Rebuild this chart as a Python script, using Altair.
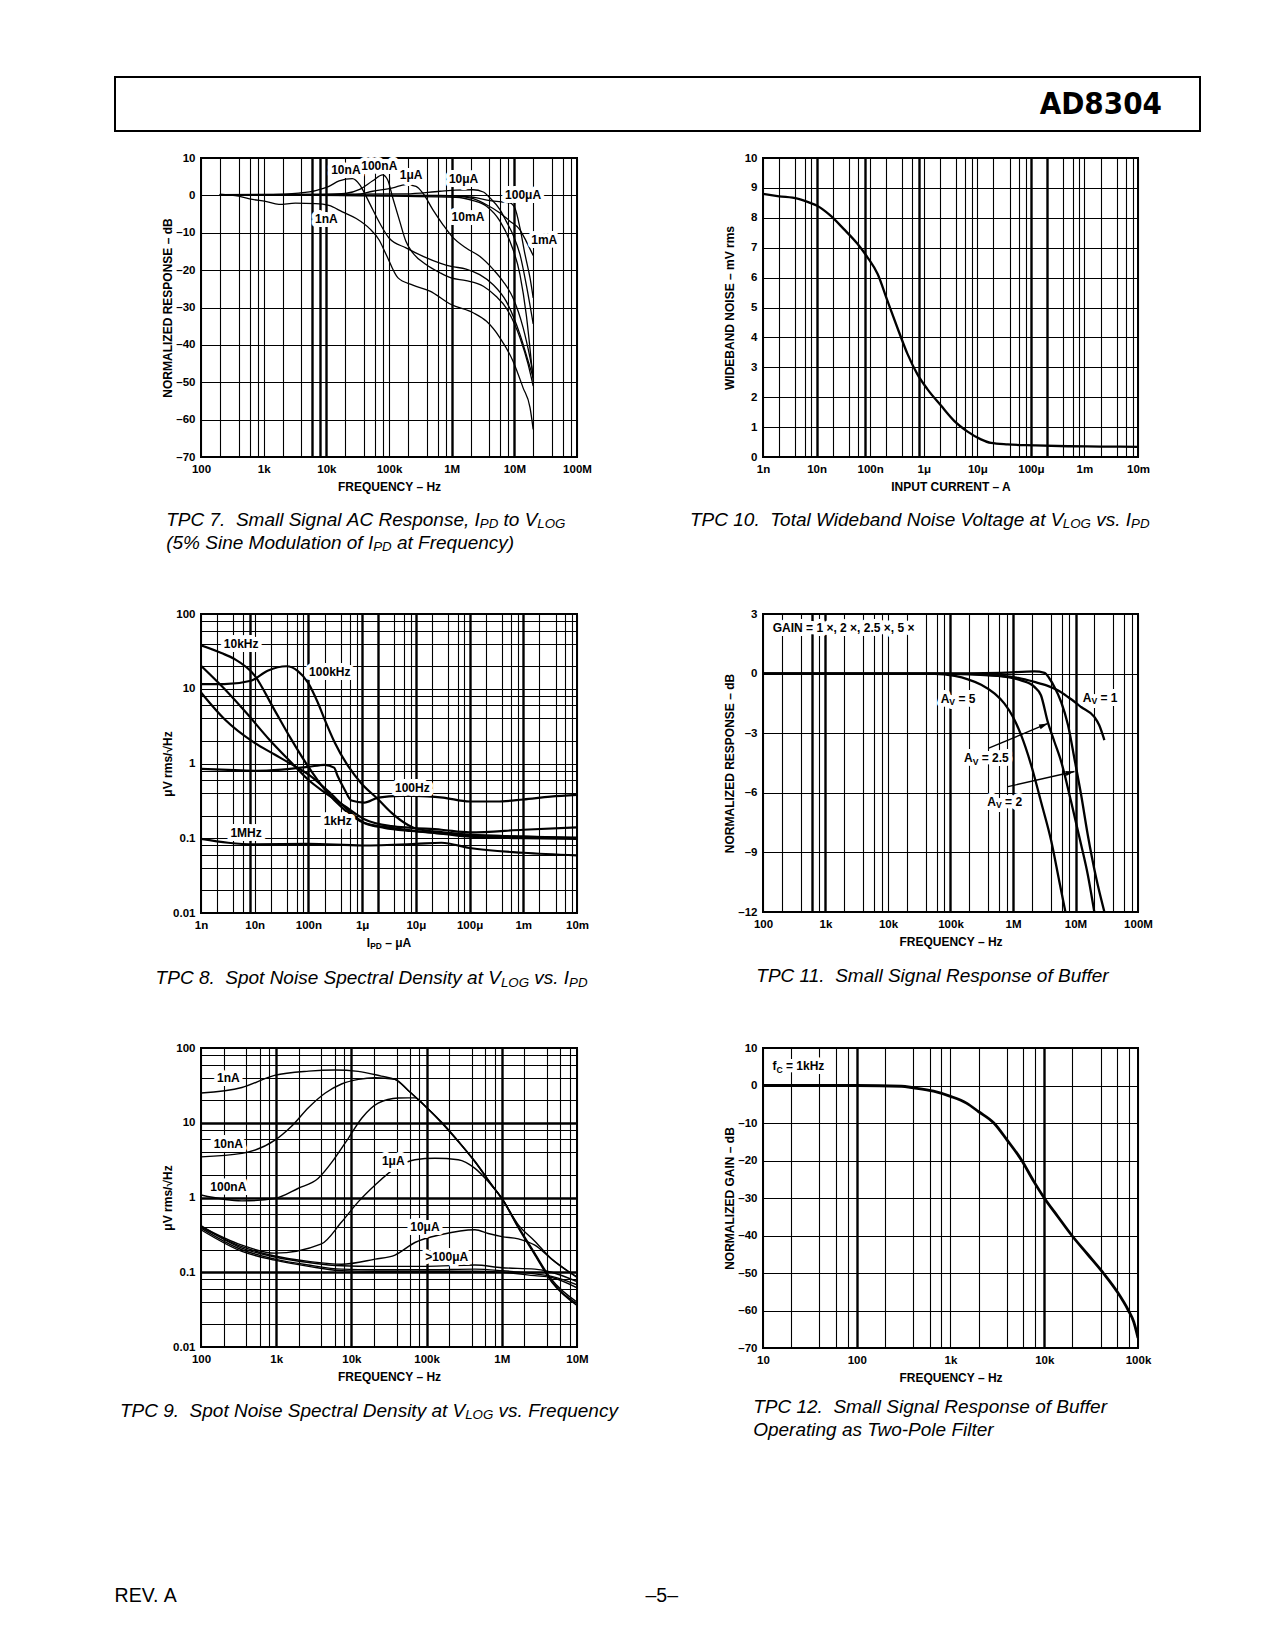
import math
import altair as alt
import pandas as pd

FONT = "Liberation Sans, Arial, Helvetica, sans-serif"
NARROW = "DejaVu Sans Condensed, Liberation Sans Narrow, Arial Narrow, sans-serif"

# ---------------- TPC 7 : small signal AC response ----------------
T7_1NA_F = [200, 400, 660, 1070, 1750, 3200, 6800, 11000, 18000, 30000, 49000, 70000, 90000, 138000, 240000, 450000, 980000, 2.2e6, 3.6e6, 5.9e6, 9.5e6, 1.38e7, 1.78e7, 2.0e7]
T7_1NA_DB = [0.3, -0.2, -1.1, -1.6, -2.4, -2.1, -2.2, -2.7, -4.4, -6.2, -8.9, -12.0, -15.8, -22.0, -24.0, -25.6, -29.2, -31.4, -33.7, -38.1, -44.3, -51.5, -56.8, -62.6]
T7_10NA_F = [200, 1400, 3600, 6800, 11000, 16000, 26000, 34000, 43000, 55000, 71000, 100000, 190000, 350000, 650000, 980000, 1.7e6, 2.8e6, 4.6e6, 7.4e6, 1.23e7, 1.66e7, 2.0e7]
T7_10NA_DB = [0.2, 0.2, 0.6, 1.3, 2.4, 3.9, 4.5, 2.9, -0.2, -3.8, -7.4, -11.4, -14.1, -16.3, -18.1, -19.0, -19.7, -21.2, -23.9, -28.3, -37.2, -44.3, -48.8]
T7_100NA_F = [200, 8700, 20000, 34000, 55000, 79000, 95000, 115000, 148000, 186000, 240000, 390000, 650000, 980000, 1.7e6, 3.2e6, 5.1e6, 7.4e6, 1.23e7, 1.66e7, 2.0e7]
T7_100NA_DB = [0.2, 0.2, 0.5, 1.6, 3.9, 5.5, 4.2, -0.7, -6.9, -12.3, -15.4, -18.5, -20.7, -22.1, -22.8, -24.3, -27.0, -30.1, -38.1, -45.2, -51.0]
T7_1UA_F = [200, 29500, 55000, 115000, 186000, 270000, 347000, 500000, 724000, 1.0e6, 1.7e6, 2.8e6, 4.6e6, 6.6e6, 9.5e6, 1.38e7, 1.78e7, 2.0e7]
T7_1UA_DB = [0.2, 0.2, 1.1, 2.0, 2.9, 2.4, 0.6, -3.8, -7.8, -10.9, -14.1, -16.3, -19.8, -23.0, -27.4, -35.4, -43.5, -47.9]
T7_10UA_F = [200, 186000, 650000, 1.17e6, 2.2e6, 3.2e6, 4.1e6, 5.9e6, 7.4e6, 9.5e6, 1.23e7, 1.55e7, 2.0e7]
T7_10UA_DB = [0.2, 0.4, 1.1, 1.4, 1.5, 0.9, -0.7, -3.8, -6.9, -10.5, -15.8, -23.9, -34.4]
T7_100UA_F = [200, 650000, 2.2e6, 4.1e6, 6.6e6, 8.5e6, 1.02e7, 1.23e7, 1.48e7, 1.78e7, 2.0e7]
T7_100UA_DB = [0.2, 0.0, -0.5, -1.4, -1.8, -2.0, -3.4, -8.7, -15.8, -22.1, -27.4]
T7_1MA_F = [200, 1.17e6, 2.2e6, 3.6e6, 5.9e6, 8.5e6, 1.23e7, 1.55e7, 2.0e7]
T7_1MA_DB = [0.2, -0.2, -0.9, -2.5, -4.7, -6.9, -9.2, -12.3, -16.1]
T7_10MA_F = [200, 1.17e6, 2.2e6, 3.6e6, 5.9e6, 8.5e6, 1.23e7, 1.55e7, 2.0e7]
T7_10MA_DB = [0.2, -0.5, -1.4, -2.9, -6.9, -12.3, -21.2, -31.9, -49.7]
T7_LBL = ["10nA", "100nA", "1μA", "10μA", "100μA", "1nA", "10mA", "1mA"]
T7_LBL_F = [20500, 70000, 225000, 1.55e6, 1.38e7, 1.0e4, 1.82e6, 3.0e7]
T7_LBL_DB = [6.9, 7.8, 5.4, 4.4, 0.2, -6.3, -5.9, -12.0]

# ---------------- TPC 10 : wideband noise ----------------
T10_I = [1e-9, 2e-9, 4.4e-9, 7.8e-9, 1e-8, 1.8e-8, 3.2e-8, 5.8e-8, 8.9e-8, 1.38e-7, 2.1e-7, 3.2e-7, 5e-7, 7.6e-7, 1.17e-6, 2.1e-6, 3.7e-6, 6.6e-6, 1.17e-5, 1.8e-5, 3.7e-5, 1.15e-4, 4.9e-4, 2e-3, 1e-2]
T10_MV = [8.80, 8.72, 8.64, 8.49, 8.41, 8.08, 7.63, 7.13, 6.68, 6.12, 5.23, 4.34, 3.44, 2.77, 2.27, 1.72, 1.21, 0.85, 0.59, 0.47, 0.42, 0.39, 0.36, 0.35, 0.34]

# ---------------- TPC 8 : spot noise vs IPD ----------------
T8_10K_I = [1e-9, 2.4e-9, 4.2e-9, 1e-8, 2.3e-8, 4.8e-8, 9.8e-8, 2e-7, 4.7e-7, 1.1e-6, 3.5e-6, 1e-5, 3.2e-5, 1e-4, 1e-3, 1e-2]
T8_10K_V = [38, 30, 25, 15, 5.3, 2.1, 0.92, 0.45, 0.24, 0.16, 0.138, 0.125, 0.115, 0.11, 0.105, 0.1]
T8_X_I = [1e-9, 2.75e-9, 6.9e-9, 1.86e-8, 4.8e-8, 9.8e-8, 2e-7, 4.7e-7, 1.1e-6, 3.5e-6, 8.3e-6, 3e-5, 1e-4, 1e-3, 1e-2]
T8_X_V = [20.3, 9.9, 4.8, 2.1, 1.03, 0.61, 0.41, 0.27, 0.18, 0.145, 0.138, 0.13, 0.12, 0.13, 0.14]
T8_1K_I = [1e-9, 2.75e-9, 9.8e-9, 2.3e-8, 4.8e-8, 1.1e-7, 2.3e-7, 5.4e-7, 1.1e-6, 2.6e-6, 8.3e-6, 3e-5, 1e-4, 1e-3, 1e-2]
T8_1K_V = [8.9, 3.9, 1.9, 1.33, 0.98, 0.68, 0.43, 0.24, 0.16, 0.138, 0.125, 0.115, 0.105, 0.1, 0.098]
T8_100K_I = [1e-9, 2.7e-9, 8.5e-9, 1.74e-8, 3.9e-8, 6.3e-8, 9.8e-8, 1.5e-7, 2e-7, 3.1e-7, 5.5e-7, 9.5e-7, 2e-6, 3.5e-6, 6.2e-6, 1e-5, 3.2e-5, 1e-4, 1e-3, 1e-2]
T8_100K_V = [11.5, 11.5, 12.8, 17.4, 20, 17.4, 12.1, 6.5, 3.9, 1.9, 0.92, 0.55, 0.33, 0.22, 0.16, 0.135, 0.12, 0.112, 0.105, 0.102]
T8_100_I = [1e-9, 3.2e-9, 1e-8, 3.2e-8, 1e-7, 2e-7, 3e-7, 3.5e-7, 4.7e-7, 6.3e-7, 1.1e-6, 2e-6, 5e-6, 1e-5, 3.2e-5, 1e-4, 3.2e-4, 1e-3, 3.2e-3, 1e-2]
T8_100_V = [0.85, 0.82, 0.80, 0.83, 0.90, 0.96, 0.88, 0.68, 0.45, 0.32, 0.30, 0.35, 0.37, 0.37, 0.35, 0.31, 0.31, 0.33, 0.36, 0.38]
T8_1M_I = [1e-9, 3.2e-9, 1e-8, 1e-7, 1e-6, 1e-5, 3e-5, 1e-4, 1e-3, 1e-2]
T8_1M_V = [0.098, 0.087, 0.083, 0.084, 0.080, 0.084, 0.087, 0.074, 0.064, 0.059]
T8_LBL = ["10kHz", "100kHz", "100Hz", "1kHz", "1MHz"]
T8_LBL_I = [5.6e-9, 2.5e-7, 8.6e-6, 3.5e-7, 6.9e-9]
T8_LBL_V = [39.6, 16.5, 0.47, 0.169, 0.118]

# ---------------- TPC 11 : buffer response ----------------
T11_AV1_F = [100, 5.6e4, 6.5e5, 1.2e6, 2.2e6, 3.6e6, 5.2e6, 7.6e6, 1.23e7, 2.0e7, 2.4e7, 2.9e7]
T11_AV1_DB = [0, 0, -0.12, -0.22, -0.42, -0.62, -0.84, -1.18, -1.68, -2.18, -2.6, -3.35]
T11_AV2_F = [100, 5.6e4, 6.5e5, 2.2e6, 3.2e6, 3.85e6, 4.6e6, 5.9e6, 7.6e6, 9.6e6, 1.23e7, 1.57e7, 2.14e7, 2.9e7]
T11_AV2_DB = [0, 0, 0.04, 0.11, 0.04, -0.26, -0.67, -1.43, -2.6, -4.27, -6.1, -8.11, -10.28, -12.0]
T11_AV25_F = [100, 5.6e4, 1.9e5, 6.5e5, 1.35e6, 2.2e6, 2.8e6, 3.6e6, 4.6e6, 5.9e6, 8.5e6, 1.23e7, 1.57e7, 2.0e7]
T11_AV25_DB = [0, 0, -0.02, -0.12, -0.34, -0.67, -1.09, -2.43, -3.43, -4.43, -6.44, -8.61, -10.11, -12.0]
T11_AV5_F = [100, 5.6e4, 1.17e5, 1.9e5, 3.1e5, 5.1e5, 7.3e5, 1.0e6, 1.35e6, 1.95e6, 2.8e6, 4.1e6, 5.5e6, 6.9e6]
T11_AV5_DB = [0, -0.01, -0.12, -0.29, -0.56, -1.01, -1.51, -2.18, -3.1, -4.6, -6.44, -8.44, -10.45, -12.0]
T11_AV = ["5", "1", "2.5", "2"]
T11_AV_F = [132000, 2.48e7, 375000, 736000]
T11_AV_DB = [-1.26, -1.21, -4.27, -6.44]
T11_ARROW_F0 = [4.0e5, 8.3e5]
T11_ARROW_DB0 = [-3.76, -5.69]
T11_ARROW_F1 = [3.62e6, 9.64e6]
T11_ARROW_DB1 = [-2.51, -4.93]
T11_NOTE = "GAIN = 1 ×, 2 ×, 2.5 ×, 5 ×"
T11_NOTE_F = [143]
T11_NOTE_DB = [2.28]

# ---------------- TPC 9 : spot noise vs frequency ----------------
T9_1NA_F = [100, 350, 950, 2700, 6000, 12300, 25000, 38000, 57000, 1e5, 1.58e5, 2.63e5, 4.4e5, 7.3e5, 1e6, 1.66e6, 2.75e6, 4.6e6, 1e7]
T9_1NA_V = [25, 29.6, 43, 49, 50.7, 48.7, 42, 38, 27, 16, 10, 5.6, 3.0, 1.47, 0.97, 0.39, 0.17, 0.074, 0.036]
T9_10NA_F = [100, 350, 950, 1600, 2700, 4500, 7400, 12400, 20700, 38000, 57000, 1e5, 1.58e5, 2.63e5, 4.4e5, 7.3e5, 1e6, 1.66e6, 2.75e6, 4.6e6, 1e7]
T9_10NA_V = [3.5, 3.9, 5.8, 9.0, 16, 25, 33, 38, 40, 38, 27, 16, 10.2, 5.7, 3.05, 1.5, 0.98, 0.40, 0.175, 0.076, 0.038]
T9_100NA_F = [100, 350, 960, 1970, 3600, 6000, 9100, 13700, 22700, 42000, 57000, 70000, 1e5, 1.58e5, 2.63e5, 4.4e5, 7.3e5, 1e6, 1.66e6, 2.75e6, 4.6e6, 1e7]
T9_100NA_V = [1.08, 0.9, 0.97, 1.33, 1.8, 3.35, 6.2, 11.5, 18.3, 21.4, 21.5, 21.5, 16, 10.1, 5.65, 3.0, 1.48, 0.98, 0.41, 0.18, 0.08, 0.04]
T9_1UA_F = [100, 350, 960, 4000, 7400, 12400, 20700, 38000, 70000, 129000, 263000, 440000, 660000, 1e6, 1.66e6, 2.75e6, 4.6e6, 1e7]
T9_1UA_V = [0.41, 0.23, 0.18, 0.24, 0.47, 0.88, 1.47, 2.45, 3.2, 3.35, 3.2, 2.45, 1.63, 0.97, 0.43, 0.26, 0.15, 0.087]
T9_10UA_F = [100, 350, 960, 2700, 7400, 20700, 38000, 70000, 158000, 440000, 660000, 1e6, 1.66e6, 2.75e6, 4.6e6, 1e7]
T9_10UA_V = [0.40, 0.22, 0.165, 0.14, 0.128, 0.15, 0.17, 0.25, 0.32, 0.37, 0.33, 0.30, 0.28, 0.23, 0.15, 0.085]
T9_100UA_F = [100, 350, 960, 2700, 7400, 20700, 1e5, 4.4e5, 1e6, 2.75e6, 4.6e6, 1e7]
T9_100UA_V = [0.42, 0.21, 0.16, 0.135, 0.122, 0.12, 0.12, 0.125, 0.115, 0.11, 0.1, 0.075]
T9_1MA_F = [100, 350, 960, 2700, 7400, 20700, 1e5, 4.4e5, 1e6, 2.75e6, 4.6e6, 1e7]
T9_1MA_V = [0.39, 0.2, 0.15, 0.125, 0.11, 0.108, 0.108, 0.11, 0.105, 0.095, 0.088, 0.068]
T9_10MA_F = [100, 350, 960, 2700, 7400, 20700, 1e5, 4.4e5, 1e6, 2.75e6, 4.6e6, 1e7]
T9_10MA_V = [0.37, 0.19, 0.145, 0.12, 0.105, 0.103, 0.103, 0.103, 0.1, 0.09, 0.085, 0.062]
T9_LBL = ["1nA", "10nA", "100nA", "1μA", "10μA", ">100μA"]
T9_LBL_F = [231, 231, 231, 36000, 95000, 185000]
T9_LBL_V = [39.6, 5.16, 1.40, 3.08, 0.406, 0.161]

# ---------------- TPC 12 : two-pole filter ----------------
T12_F = [10, 100, 300, 400, 660, 1000, 1480, 2000, 2900, 4000, 5760, 7700, 10000, 14000, 19700, 29000, 42600, 60000, 79000, 90000, 1e5]
T12_DB = [0, 0, -0.2, -0.6, -1.5, -2.9, -4.7, -7.0, -10.0, -14.5, -20.0, -25.5, -30.0, -35.0, -40.0, -45.0, -50.0, -55.0, -60.0, -63.0, -67.3]
T12_NOTE_F = [12.6]
T12_NOTE_DB = [5.1]

# ---------------- axis tick labels ----------------
HZ_DECADES = [(100.0, "100"), (1e3, "1k"), (1e4, "10k"), (1e5, "100k"), (1e6, "1M"), (1e7, "10M"), (1e8, "100M")]
HZ6_DECADES = [(10.0, "10"), (100.0, "100"), (1e3, "1k"), (1e4, "10k"), (1e5, "100k")]
AMP_DECADES = [(1e-9, "1n"), (1e-8, "10n"), (1e-7, "100n"), (1e-6, "1μ"), (1e-5, "10μ"), (1e-4, "100μ"), (1e-3, "1m"), (1e-2, "10m")]
NOISE_DECADES = [(100.0, "100"), (10.0, "10"), (1.0, "1"), (0.1, "0.1"), (0.01, "0.01")]

# ---------------- text width helpers (Arial/Liberation metrics) ----------------
REG_W = {' ': 278, '\u00a0': 278, '(': 333, ')': 333, '%': 889, ',': 278, '.': 278, '-': 333, '–': 556,
         '×': 584, '=': 584, '>': 584, '/': 278,
         'A': 667, 'B': 667, 'C': 722, 'D': 722, 'E': 667, 'F': 611, 'G': 778, 'H': 722, 'I': 278, 'L': 556,
         'M': 833, 'N': 722, 'O': 778, 'P': 667, 'R': 722, 'S': 667, 'T': 611, 'V': 667, 'W': 944,
         'a': 556, 'b': 556, 'c': 500, 'd': 556, 'e': 556, 'f': 278, 'g': 556, 'h': 556, 'i': 222, 'k': 500,
         'l': 222, 'm': 833, 'n': 556, 'o': 556, 'p': 556, 'q': 556, 'r': 333, 's': 500, 't': 278, 'u': 556,
         'v': 500, 'w': 722, 'y': 500, 'z': 500, 'μ': 576}
BOLD_W = {' ': 278, '\u00a0': 278, ',': 278, '.': 278, '–': 556, '×': 584, '=': 584, '>': 584, '/': 278,
          'A': 722, 'C': 722, 'D': 722, 'G': 778, 'H': 722, 'I': 278, 'L': 611, 'M': 833, 'N': 722,
          'O': 778, 'P': 667, 'V': 667, 'a': 556, 'f': 333, 'k': 556, 'm': 889, 'n': 611, 'z': 500, 'μ': 611}
KERN = {'To': -111, 'Vo': -55, 'Ta': -111, 'Te': -111, 'Va': -74, 'Ve': -55, 'Wa': -37, 'We': -18, 'Wo': -18}
NB = "\u00a0"


def nb(s):
    return s.replace(" ", NB)


def tw(s, size, bold):
    tab = BOLD_W if bold else REG_W
    total = sum(tab.get(c, 556) for c in s)
    if not bold:
        total += sum(KERN.get(s[i:i + 2], 0) for i in range(len(s) - 1))
    return total * size / 1000.0


def split_lead(t):
    """Vega trims text, so leading blanks become an offset instead."""
    core = t.strip(" \u00a0")
    lead = t[:len(t) - len(t.lstrip(" \u00a0"))]
    return lead, nb(core)


DUMMY = pd.DataFrame({"a": [0]})
CLEAR = alt.ViewBackground(stroke="transparent")


def blank(w, h):
    return alt.Chart(DUMMY).mark_point(opacity=0, size=0, strokeWidth=0).encode(
        x=alt.value(3), y=alt.value(3)).properties(width=w, height=h, view=CLEAR)


def log_values(lo, hi, mults=(1, 2, 4, 6, 8)):
    vals = []
    for e in range(lo, hi):
        d = float("1e%d" % e)
        for m in mults:
            vals.append(d * m)
    vals.append(float("1e%d" % hi))
    return vals


def label_expr(mapping):
    expr = "''"
    for v, lab in reversed(mapping):
        expr = "datum.value == %r ? '%s' : %s" % (v, lab, expr)
    return expr


LIN_EXPR = "datum.value < 0 ? '–' + (-datum.value) : '' + datum.value"


def grid_w(bold):
    if not bold:
        return 1.1
    arr = ",".join(repr(float(b)) for b in bold)
    return {"condition": {"test": "indexof([%s], datum.value) >= 0" % arr, "value": 2.4}, "value": 1.1}


def make_axis(vals, expr, bold, title, orient, w, h):
    kw = dict(values=vals, labelExpr=expr, grid=True, gridColor="black", gridOpacity=1, gridWidth=grid_w(bold),
              ticks=False, tickSize=0, domain=False, labelFont=FONT, labelFontWeight="bold", labelFontSize=11.5,
              labelColor="black", labelFlush=False, labelOverlap=False,
              titleFont=FONT, titleFontWeight="bold", titleFontSize=12, titleColor="black",
              titleBaseline="middle", titleAlign="center")
    if orient == "x":
        kw.update(labelPadding=6, titleX=w / 2.0, titleY=29, titleAngle=0)
    else:
        kw.update(labelPadding=6, titleX=-34, titleY=h / 2.0, titleAngle=270)
    kw["title"] = title
    return alt.Axis(**kw)


def xy(P):
    return dict(x=alt.X("x:Q", scale=P["xs"], axis=P["xa"]), y=alt.Y("y:Q", scale=P["ys"], axis=P["ya"]))


def series_df(items):
    frames = [pd.DataFrame({"x": xs, "y": ys, "s": name}) for name, xs, ys in items]
    return pd.concat(frames, ignore_index=True)


def panel(df, P, sw, extra):
    lines = alt.Chart(df).mark_line(color="black", strokeWidth=sw, clip=True, interpolate="monotone").encode(
        detail="s:N", **xy(P))
    return alt.layer(lines, *extra).properties(width=P["w"], height=P["h"],
                                               view=alt.ViewBackground(stroke="black", strokeWidth=2))


def simple_labels(xv, yv, texts, P, size=12, align="center"):
    df = pd.DataFrame({"x": xv, "y": yv, "t": [nb(t) for t in texts]})
    common = dict(font=FONT, fontWeight="bold", fontSize=size, align=align, baseline="middle")
    halo = alt.Chart(df).mark_text(fill="white", stroke="white", strokeWidth=8, strokeJoin="round", **common).encode(
        text="t:N", **xy(P))
    txt = alt.Chart(df).mark_text(fill="black", **common).encode(text="t:N", **xy(P))
    return [halo, txt]


def rich_data(fx, fy, segs, P, size=12, align="center"):
    sub = size * 0.72
    widths = [tw(t, sub if s else size, True) for t, s in segs]
    x0 = -sum(widths) / 2.0 if align == "center" else 0.0
    df = pd.DataFrame({"x": [fx], "y": [fy]})
    halos, texts = [], []
    for (t, s), wd in zip(segs, widths):
        fs = sub if s else size
        lead, core = split_lead(t)
        kw = dict(text=core, font=FONT, fontWeight="bold", fontSize=fs, align="left",
                  baseline="middle", dx=x0 + tw(lead, fs, True), dy=(size * 0.3 if s else 0))
        halos.append(alt.Chart(df).mark_text(fill="white", stroke="white", strokeWidth=8, strokeJoin="round", **kw).encode(**xy(P)))
        texts.append(alt.Chart(df).mark_text(fill="black", **kw).encode(**xy(P)))
        x0 += wd
    return halos + texts


def rich_px(px, py, segs, size, bold=False, italic=True, align="left", font=FONT):
    sub = size * 0.7
    widths = [tw(t, sub if s else size, bold) for t, s in segs]
    x0 = -sum(widths) / 2.0 if align == "center" else 0.0
    out = []
    for (t, s), wd in zip(segs, widths):
        fs = sub if s else size
        lead, core = split_lead(t)
        kw = dict(text=core, font=font, fontSize=fs, align="left", baseline="middle",
                  fill="black", fontWeight="bold" if bold else "normal")
        if italic:
            kw["fontStyle"] = "italic"
        out.append(alt.Chart(DUMMY).mark_text(**kw).encode(
            x=alt.value(px + x0 + tw(lead, fs, bold)), y=alt.value(py + (size * 0.24 if s else 0))))
        x0 += wd
    return out


# ---------------- panel sizes ----------------
LW = 376
RW = 375

# TPC 7
P7 = dict(w=LW, h=299, xs=alt.Scale(type="log", domain=[1e2, 1e8], nice=False),
          ys=alt.Scale(domain=[-70, 10], nice=False, zero=False))
P7["xa"] = make_axis(log_values(2, 8), label_expr(HZ_DECADES), [6000, 8000, 1e4, 1e6, 1e7], "FREQUENCY – Hz", "x", LW, 299)
P7["ya"] = make_axis(list(range(-70, 11, 10)), LIN_EXPR, None, "NORMALIZED RESPONSE – dB", "y", LW, 299)
df7 = series_df([("1nA", T7_1NA_F, T7_1NA_DB), ("10nA", T7_10NA_F, T7_10NA_DB), ("100nA", T7_100NA_F, T7_100NA_DB),
                 ("1uA", T7_1UA_F, T7_1UA_DB), ("10uA", T7_10UA_F, T7_10UA_DB), ("100uA", T7_100UA_F, T7_100UA_DB),
                 ("1mA", T7_1MA_F, T7_1MA_DB), ("10mA", T7_10MA_F, T7_10MA_DB)])
c7 = panel(df7, P7, 1.3, simple_labels(T7_LBL_F, T7_LBL_DB, T7_LBL, P7))

# TPC 10
P10 = dict(w=RW, h=299, xs=alt.Scale(type="log", domain=[1e-9, 1e-2], nice=False),
           ys=alt.Scale(domain=[0, 10], nice=False, zero=False))
P10["xa"] = make_axis(log_values(-9, -2), label_expr(AMP_DECADES), [1e-8, 8e-8, 8e-7, 1e-4, 2e-4], "INPUT CURRENT – A", "x", RW, 299)
P10["ya"] = make_axis(list(range(0, 11)), LIN_EXPR, None, "WIDEBAND NOISE – mV rms", "y", RW, 299)
c10 = panel(series_df([("noise", T10_I, T10_MV)]), P10, 2.3, [])

# TPC 8
P8 = dict(w=LW, h=299, xs=alt.Scale(type="log", domain=[1e-9, 1e-2], nice=False),
          ys=alt.Scale(type="log", domain=[0.01, 100], nice=False))
P8["xa"] = make_axis(log_values(-9, -2), label_expr(AMP_DECADES), [8e-9, 1e-7, 1e-6, 2e-6, 1e-5, 1e-4, 1e-3], None, "x", LW, 299)
P8["ya"] = make_axis(log_values(-2, 2), label_expr(NOISE_DECADES), None, "μV rms/√Hz", "y", LW, 299)
df8 = series_df([("10k", T8_10K_I, T8_10K_V), ("x", T8_X_I, T8_X_V), ("1k", T8_1K_I, T8_1K_V),
                 ("100k", T8_100K_I, T8_100K_V), ("100", T8_100_I, T8_100_V), ("1M", T8_1M_I, T8_1M_V)])
extra8 = simple_labels(T8_LBL_I, T8_LBL_V, T8_LBL, P8)
extra8 += rich_px(LW / 2.0, 299 + 30, [("I", False), ("PD", True), (" – μA", False)], 12, bold=True, italic=False, align="center")
c8 = panel(df8, P8, 2.2, extra8)

# TPC 11
H11 = 298
P11 = dict(w=RW, h=H11, xs=alt.Scale(type="log", domain=[1e2, 1e8], nice=False),
           ys=alt.Scale(domain=[-12, 3], nice=False, zero=False))
P11["xa"] = make_axis(log_values(2, 8), label_expr(HZ_DECADES), [600, 1000, 1e5, 1e6, 1e7], "FREQUENCY – Hz", "x", RW, H11)
P11["ya"] = make_axis(list(range(-12, 4, 3)), LIN_EXPR, None, "NORMALIZED RESPONSE – dB", "y", RW, H11)
df11 = series_df([("1", T11_AV1_F, T11_AV1_DB), ("2", T11_AV2_F, T11_AV2_DB),
                  ("2.5", T11_AV25_F, T11_AV25_DB), ("5", T11_AV5_F, T11_AV5_DB)])
arrow_df = pd.DataFrame({"x": T11_ARROW_F0, "y": T11_ARROW_DB0, "x2": T11_ARROW_F1, "y2": T11_ARROW_DB1})


def px11(f, db):
    return RW * (math.log10(f) - 2) / 6.0, H11 * (3 - db) / 15.0


angles = []
for f0, d0, f1, d1 in zip(T11_ARROW_F0, T11_ARROW_DB0, T11_ARROW_F1, T11_ARROW_DB1):
    ax0, ay0 = px11(f0, d0)
    ax1, ay1 = px11(f1, d1)
    angles.append(math.degrees(math.atan2(ax1 - ax0, -(ay1 - ay0))))
extra11 = [alt.Chart(arrow_df).mark_rule(color="black", strokeWidth=1.4).encode(x2="x2:Q", y2="y2:Q", **xy(P11))]
for i in range(len(T11_ARROW_F1)):
    hd = pd.DataFrame({"x": [T11_ARROW_F1[i]], "y": [T11_ARROW_DB1[i]]})
    extra11.append(alt.Chart(hd).mark_point(shape="M0,0L0.55,2L-0.55,2Z", filled=True, color="black", opacity=1,
                                            size=80, angle=angles[i]).encode(**xy(P11)))
extra11 += simple_labels(T11_NOTE_F, T11_NOTE_DB, [T11_NOTE], P11, align="left")
for av, f, db in zip(T11_AV, T11_AV_F, T11_AV_DB):
    extra11 += rich_data(f, db, [("A", False), ("V", True), (" = " + av, False)], P11)
c11 = panel(df11, P11, 2.3, extra11)

# TPC 9
P9 = dict(w=LW, h=299, xs=alt.Scale(type="log", domain=[1e2, 1e7], nice=False),
          ys=alt.Scale(type="log", domain=[0.01, 100], nice=False))
P9["xa"] = make_axis(log_values(2, 7), label_expr(HZ_DECADES[:6]), [1e3, 1e4, 1e5, 1e6], "FREQUENCY – Hz", "x", LW, 299)
P9["ya"] = make_axis(log_values(-2, 2), label_expr(NOISE_DECADES), [0.1, 1, 10], "μV rms/√Hz", "y", LW, 299)
df9 = series_df([("1nA", T9_1NA_F, T9_1NA_V), ("10nA", T9_10NA_F, T9_10NA_V), ("100nA", T9_100NA_F, T9_100NA_V),
                 ("1uA", T9_1UA_F, T9_1UA_V), ("10uA", T9_10UA_F, T9_10UA_V), ("100uA", T9_100UA_F, T9_100UA_V),
                 ("1mA", T9_1MA_F, T9_1MA_V), ("10mA", T9_10MA_F, T9_10MA_V)])
c9 = panel(df9, P9, 1.4, simple_labels(T9_LBL_F, T9_LBL_V, T9_LBL, P9))

# TPC 12
P12 = dict(w=RW, h=300, xs=alt.Scale(type="log", domain=[10, 1e5], nice=False),
           ys=alt.Scale(domain=[-70, 10], nice=False, zero=False))
P12["xa"] = make_axis(log_values(1, 5), label_expr(HZ6_DECADES), [100, 1e4], "FREQUENCY – Hz", "x", RW, 300)
P12["ya"] = make_axis(list(range(-70, 11, 10)), LIN_EXPR, None, "NORMALIZED GAIN – dB", "y", RW, 300)
extra12 = rich_data(T12_NOTE_F[0], T12_NOTE_DB[0], [("f", False), ("C", True), (" = 1kHz", False)], P12, align="left")
c12 = panel(series_df([("filter", T12_F, T12_DB)]), P12, 2.8, extra12)

# ---------------- header, captions, footer ----------------
header = alt.layer(
    alt.Chart(DUMMY).mark_rect(fillOpacity=0, stroke="black", strokeWidth=2).encode(
        x=alt.value(-86), x2=alt.value(999), y=alt.value(68), y2=alt.value(122)),
    alt.Chart(DUMMY).mark_text(text="AD8304", font=NARROW, fontWeight="bold", fontSize=31, align="right",
                               baseline="middle", fill="black").encode(x=alt.value(961), y=alt.value(96)),
).properties(width=LW, height=149, view=CLEAR)

CAP = 19
cap7 = alt.layer(
    *rich_px(-34.8, 62.6, [("TPC 7.  Small Signal AC Response, I", False), ("PD", True), (" to V", False), ("LOG", True)], CAP),
    *rich_px(-34.8, 85.8, [("(5% Sine Modulation of I", False), ("PD", True), (" at Frequency)", False)], CAP),
).properties(width=LW, height=157, view=CLEAR)
cap10 = alt.layer(
    *rich_px(-73, 62.6, [("TPC 10.  Total Wideband Noise Voltage at V", False), ("LOG", True), (" vs. I", False), ("PD", True)], CAP),
).properties(width=RW, height=157, view=CLEAR)
cap8 = alt.layer(
    *rich_px(-45.4, 65.3, [("TPC 8.  Spot Noise Spectral Density at V", False), ("LOG", True), (" vs. I", False), ("PD", True)], CAP),
).properties(width=LW, height=135, view=CLEAR)
cap11 = alt.layer(
    *rich_px(-6.7, 63.2, [("TPC 11.  Small Signal Response of Buffer", False)], CAP),
).properties(width=RW, height=135, view=CLEAR)
foot_l = alt.layer(
    *rich_px(-81.1, 62.7, [("TPC 9.  Spot Noise Spectral Density at V", False), ("LOG", True), (" vs. Frequency", False)], CAP),
    *rich_px(-86.4, 247.8, [("REV. A", False)], 19.5, italic=False),
    *rich_px(460.7, 247.8, [("–5–", False)], 19.5, italic=False, align="center"),
).properties(width=LW, height=270, view=CLEAR)
foot_r = alt.layer(
    *rich_px(-9.8, 58.5, [("TPC 12.  Small Signal Response of Buffer", False)], CAP),
    *rich_px(-9.8, 81.6, [("Operating as Two-Pole Filter", False)], CAP),
).properties(width=RW, height=270, view=CLEAR)

cells = [
    blank(6, 149), header, blank(RW, 149),
    blank(6, 299), c7, c10,
    blank(6, 157), cap7, cap10,
    blank(6, 299), c8, c11,
    blank(6, 135), cap8, cap11,
    blank(6, 300), c9, c12,
    blank(6, 270), foot_l, foot_r,
]

chart = alt.concat(*cells, columns=3, spacing=alt.RowColnumber(row=0, column=186),
                   bounds="flush", align="each").properties(padding=0, background="white").configure_view(
    stroke="transparent")

chart.save("out.html", embed_options={"renderer": "svg", "actions": False})
